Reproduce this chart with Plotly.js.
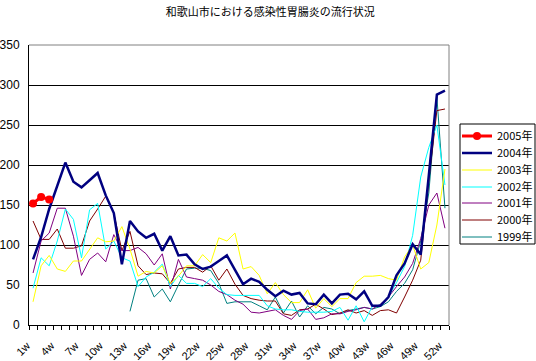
<!DOCTYPE html>
<html>
<head>
<meta charset="utf-8">
<script src="https://cdn.plot.ly/plotly-3.0.1.min.js"></script>
<style>html,body{margin:0;padding:0;background:#fff;}#chart{width:536px;height:361px;}</style>
</head>
<body>
<div id="chart"></div>
<script>
const weeks = Array.from({length: 52}, (_, i) => (i + 1) + 'w');

const y2005 = [152, 160, 157];
const y2004 = [82, 110, 145, 175, 203, 179, 172, 181, 190, 162, 140, 76, 130, 117, 109, 114, 93, 111, 87, 88,
  76, 70, 73, 80, 87, 69, 51, 58, 54, 44, 36, 43, 38, 40, 27, 26, 38, 27, 38, 39,
  32, 42, 24, 24, 35, 62, 77, 101, 88, 187, 288, 293];
const y2003 = [29, 74, 87, 70, 67, 80, 80, 95, 109, 104, 105, 123, 95, 61, 67, 65, 74, 52, 61, 74,
  74, 88, 78, 109, 105, 115, 70, 73, 62, 39, 53, 38, 28, 28, 44, 21, 33, 23, 33, 33,
  53, 61, 61, 62, 58, 56, 85, 100, 70, 78, 125, 195];
const y2002 = [46, 84, 74, 105, 145, 132, 84, 144, 152, 95, 105, 84, 80, 48, 60, 66, 76, 48, 62, 52,
  52, 48, 58, 46, 38, 37, 37, 37, 37, 24, 20, 19, 19, 17, 16, 16, 16, 17, 22, 6,
  24, 4, 23, 25, 35, 53, 73, 112, 185, 222, 250, 175];
const y2001 = [65, 105, 115, 146, 146, 111, 62, 82, 90, 79, 113, 93, 93, 97, 89, 75, 89, 45, 82, 60,
  58, 56, 50, 42, 38, 31, 26, 16, 15, 17, 19, 12, 7, 18, 20, 7, 9, 14, 14, 17,
  19, 22, 20, 26, 35, 48, 60, 77, 108, 150, 165, 121];
const y2000 = [130, 107, 107, 120, 96, 96, 99, 130, 145, 161, 140, 93, 117, 74, 63, 65, 64, 52, 70, 72,
  72, 66, 74, 56, 70, 51, 37, 33, 31, 30, 30, 14, 12, 19, 20, 26, 20, 13, 15, 19,
  15, 18, 12, 18, 19, 15, 35, 56, 81, 180, 268, 270];
const y1999 = [null, null, null, null, null, null, null, null, null, null, null, null, 17, 56, 58, 35, 45, 29, 50, 70,
  71, 71, 68, 52, 27, 29, 29, 29, 24, 19, 35, 15, 30, 10, 24, 14, 22, 20, 14, 18,
  20, 22, 20, 23, 29, 42, 52, 69, 105, 165, 285, 146];

const yTicks = [0, 50, 100, 150, 200, 250, 300, 350];
const xTickLabels = weeks.filter((_, i) => i % 3 === 0);

const FONT = 'Liberation Sans, Arial, "Noto Sans CJK JP", sans-serif';
const JFONT = '"Noto Sans CJK JP", "Liberation Sans", sans-serif';

// plot area in pixels (layout only)
const W = 536, H = 361, L = 29, R = 449, T = 45, B = 325;
const px2x = p => (p - L) / (R - L);
const px2y = p => (B - p) / (B - T);

// legend slots, top to bottom: 2005 ... 1999
const legendCenters = [136, 153, 170, 187, 203, 220, 237];

function line(name, y, color, width, slot) {
  return {type: 'scatter', mode: 'lines', name: name, x: weeks.slice(0, y.length), y: y,
    line: {color: color, width: width}, connectgaps: false,
    legend: slot === 0 ? 'legend' : 'legend' + (slot + 1)};
}

const traces = [
  line('1999年', y1999, '#008080', 1, 6),
  line('2000年', y2000, '#800000', 1, 5),
  line('2001年', y2001, '#800080', 1, 4),
  line('2002年', y2002, '#00FFFF', 1, 3),
  line('2003年', y2003, '#FFFF00', 1, 2),
  line('2004年', y2004, '#000080', 2.5, 1),
  {type: 'scatter', mode: 'lines+markers', name: '2005年', x: weeks.slice(0, y2005.length), y: y2005,
    line: {color: '#FF0000', width: 3}, marker: {color: '#FF0000', size: 8, symbol: 'circle'}, legend: 'legend'},
  {type: 'scatter', mode: 'lines', x: [], y: [], xaxis: 'x2', showlegend: false, hoverinfo: 'skip'}
];

const n = weeks.length;
const layout = {
  width: W, height: H,
  margin: {l: L, r: W - R, t: T, b: H - B, pad: 0, autoexpand: false},
  paper_bgcolor: '#ffffff', plot_bgcolor: '#ffffff',
  showlegend: true,
  title: {text: '和歌山市における感染性胃腸炎の流行状況', font: {family: JFONT, size: 11, color: '#000'},
    xref: 'container', x: 0.504, xanchor: 'center', yref: 'container', y: 0.966, yanchor: 'middle'},
  xaxis: {type: 'category', tickmode: 'array', tickvals: xTickLabels, ticktext: xTickLabels,
    tickangle: -45, ticks: '', showgrid: false, zeroline: false, ticklabelstandoff: 9, ticklabelshift: -6,
    showline: true, linecolor: '#000', linewidth: 1, automargin: false,
    tickfont: {family: FONT, size: 11, color: '#000'}, range: [-0.5, n - 0.5], fixedrange: true},
  xaxis2: {overlaying: 'x', anchor: 'y', side: 'bottom', range: [-0.5, n - 0.5],
    tickmode: 'linear', tick0: -0.5, dtick: 1, ticks: 'outside', ticklen: 4, tickcolor: '#000', tickwidth: 1,
    showticklabels: false, showgrid: false, zeroline: false, showline: false},
  yaxis: {range: [0, 350], tickmode: 'array', tickvals: yTicks, ticks: '', ticklabelstandoff: 6,
    showgrid: true, gridcolor: '#000', gridwidth: 1, zeroline: false, automargin: false,
    showline: true, linecolor: '#000', linewidth: 1,
    tickfont: {family: FONT, size: 12, color: '#000'}, fixedrange: true},
  shapes: [
    {type: 'line', xref: 'paper', yref: 'paper', x0: 0, x1: 1, y0: 1, y1: 1, line: {color: '#808080', width: 1}},
    {type: 'line', xref: 'paper', yref: 'paper', x0: 1, x1: 1, y0: 0, y1: 1, line: {color: '#808080', width: 1}},
    {type: 'rect', xref: 'paper', yref: 'paper', x0: px2x(460), x1: px2x(535), y0: px2y(244), y1: px2y(124),
      line: {color: '#000', width: 1}, fillcolor: 'rgba(0,0,0,0)'}
  ]
};

legendCenters.forEach((c, i) => {
  const key = i === 0 ? 'legend' : 'legend' + (i + 1);
  layout[key] = {x: px2x(457), xanchor: 'left', y: px2y(c), yanchor: 'middle',
    borderwidth: 0, bgcolor: 'rgba(0,0,0,0)', font: {family: JFONT, size: 11, color: '#000'},
    itemwidth: 30, tracegroupgap: 0};
});

Plotly.newPlot('chart', traces, layout, {displayModeBar: false, staticPlot: true});
</script>
</body>
</html>
